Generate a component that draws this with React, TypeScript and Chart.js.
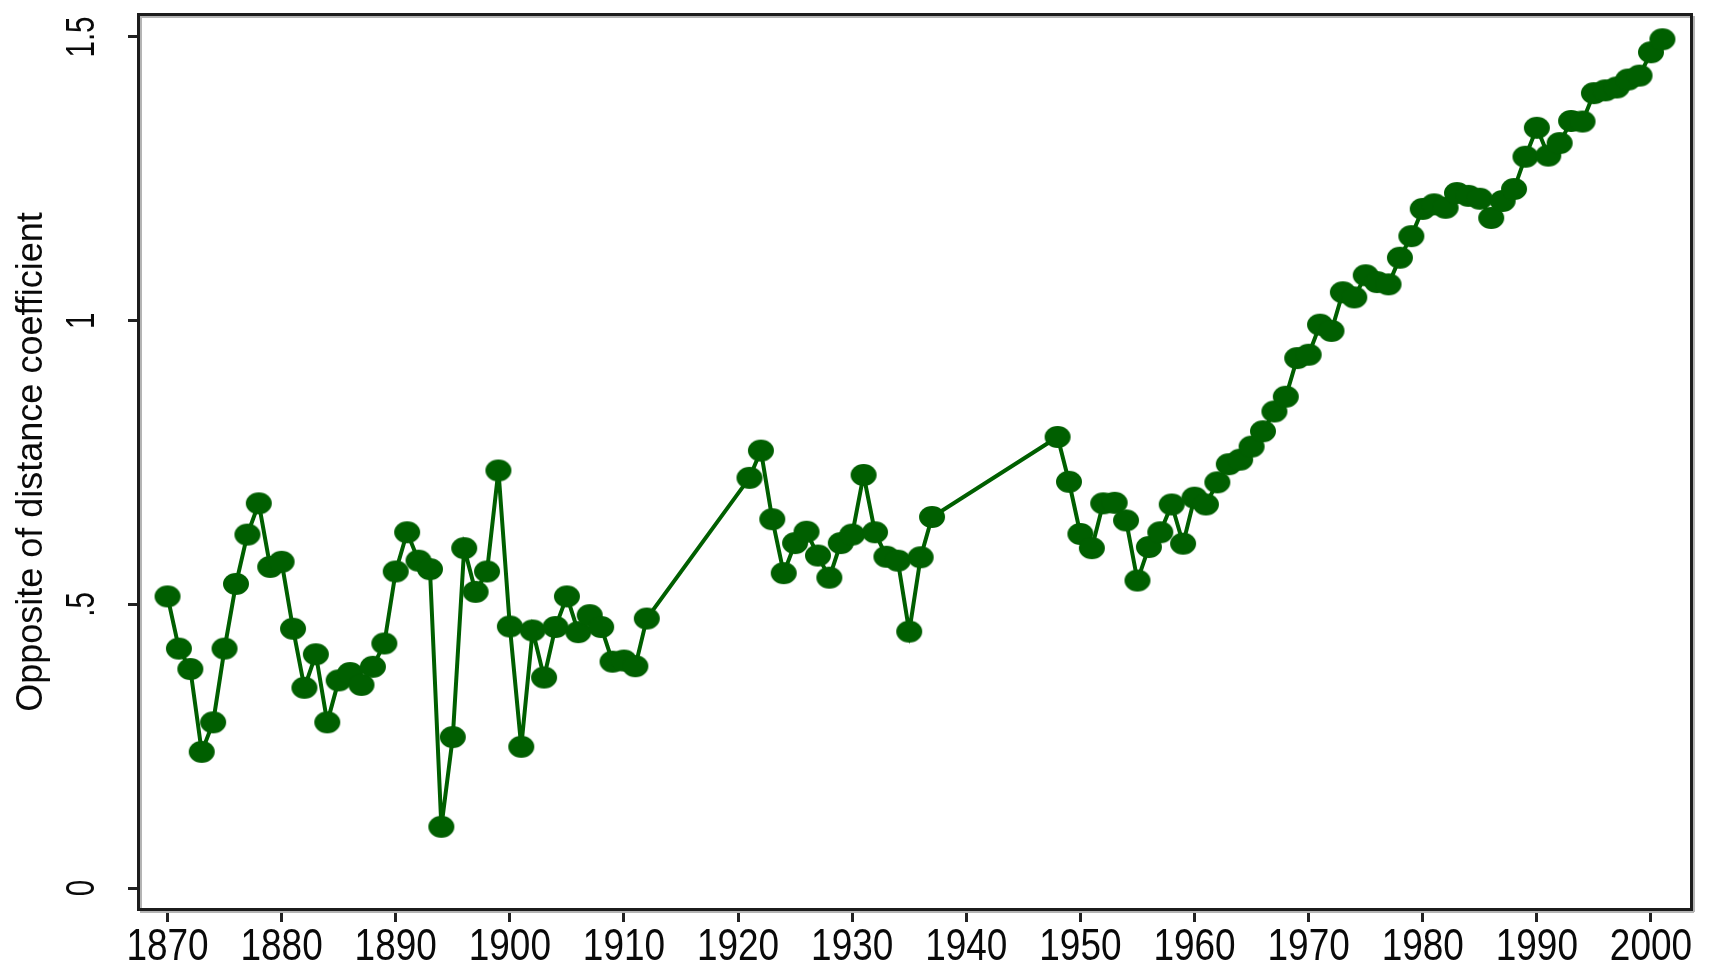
import React, { useEffect, useRef } from "react";
import { Chart, registerables } from "chart.js";

Chart.register(...registerables);

// ---------------- data ----------------
const years: number[] = [
  1870, 1871, 1872, 1873, 1874, 1875, 1876, 1877, 1878, 1879,
  1880, 1881, 1882, 1883, 1884, 1885, 1886, 1887, 1888, 1889,
  1890, 1891, 1892, 1893, 1894, 1895, 1896, 1897, 1898, 1899,
  1900, 1901, 1902, 1903, 1904, 1905, 1906, 1907, 1908, 1909,
  1910, 1911, 1912,
  1921, 1922, 1923, 1924, 1925, 1926, 1927, 1928, 1929,
  1930, 1931, 1932, 1933, 1934, 1935, 1936, 1937,
  1948, 1949,
  1950, 1951, 1952, 1953, 1954, 1955, 1956, 1957, 1958, 1959,
  1960, 1961, 1962, 1963, 1964, 1965, 1966, 1967, 1968, 1969,
  1970, 1971, 1972, 1973, 1974, 1975, 1976, 1977, 1978, 1979,
  1980, 1981, 1982, 1983, 1984, 1985, 1986, 1987, 1988, 1989,
  1990, 1991, 1992, 1993, 1994, 1995, 1996, 1997, 1998, 1999,
  2000, 2001,
];

const values: number[] = [
  0.514, 0.422, 0.386, 0.240, 0.292, 0.422, 0.536, 0.623, 0.678, 0.566,
  0.575, 0.457, 0.353, 0.412, 0.292, 0.366, 0.379, 0.358, 0.390, 0.431,
  0.558, 0.627, 0.577, 0.562, 0.108, 0.266, 0.599, 0.522, 0.558, 0.736,
  0.461, 0.249, 0.454, 0.371, 0.460, 0.514, 0.451, 0.481, 0.460, 0.399,
  0.401, 0.391, 0.475,
  0.723, 0.771, 0.650, 0.555, 0.608, 0.628, 0.586, 0.547, 0.608,
  0.623, 0.728, 0.627, 0.584, 0.577, 0.452, 0.583, 0.654,
  0.795, 0.716,
  0.624, 0.599, 0.678, 0.679, 0.648, 0.542, 0.601, 0.627, 0.676, 0.607,
  0.688, 0.676, 0.715, 0.747, 0.755, 0.778, 0.805, 0.840, 0.866, 0.934,
  0.940, 0.993, 0.982, 1.050, 1.041, 1.080, 1.068, 1.064, 1.111, 1.149,
  1.197, 1.205, 1.199, 1.225, 1.220, 1.215, 1.181, 1.211, 1.232, 1.289,
  1.340, 1.291, 1.313, 1.352, 1.351, 1.401, 1.406, 1.411, 1.425, 1.432,
  1.473, 1.496,
];

const xTickValues: number[] = [1870, 1880, 1890, 1900, 1910, 1920, 1930, 1940, 1950, 1960, 1970, 1980, 1990, 2000];
const xTickLabels: string[] = ["1870", "1880", "1890", "1900", "1910", "1920", "1930", "1940", "1950", "1960", "1970", "1980", "1990", "2000"];
const yTickValues: number[] = [0, 0.5, 1, 1.5];
const yTickLabels: string[] = ["0", ".5", "1", "1.5"];
const yAxisTitle = "Opposite of distance coefficient";

// ---------------- styles ----------------
const GREEN = "#005f00";
const INK = "#0a0a0a";
const FONT = '"Liberation Sans", Arial, Helvetica, sans-serif';

function makeMarker(): HTMLCanvasElement {
  const c = document.createElement("canvas");
  c.width = 28;
  c.height = 24;
  const ctx = c.getContext("2d");
  if (ctx) {
    ctx.fillStyle = GREEN;
    ctx.beginPath();
    ctx.ellipse(14, 12, 13, 11, 0, 0, Math.PI * 2);
    ctx.fill();
  }
  return c;
}

const stataPlugin = {
  id: "stataDecor",
  afterDraw(chart: any) {
    const { ctx, chartArea: a, scales } = chart;
    ctx.save();
    // light shading next to frame
    ctx.strokeStyle = "#b4b4b4";
    ctx.lineWidth = 2;
    ctx.beginPath();
    ctx.moveTo(a.left + 1, a.top);
    ctx.lineTo(a.left + 1, a.bottom);
    ctx.moveTo(a.left, a.top + 1);
    ctx.lineTo(a.right, a.top + 1);
    ctx.moveTo(a.right + 4, a.top);
    ctx.lineTo(a.right + 4, a.bottom + 4);
    ctx.moveTo(a.left, a.bottom + 4);
    ctx.lineTo(a.right + 4, a.bottom + 4);
    ctx.stroke();
    // frame
    ctx.strokeStyle = "#1c1c1c";
    ctx.lineWidth = 3;
    ctx.strokeRect(a.left - 1.5, a.top - 1.5, a.right - a.left + 3, a.bottom - a.top + 3);

    // x tick labels (condensed)
    ctx.fillStyle = INK;
    ctx.font = "44px " + FONT;
    ctx.textAlign = "center";
    ctx.textBaseline = "alphabetic";
    xTickValues.forEach((v, i) => {
      const px = scales.x.getPixelForValue(v);
      ctx.save();
      ctx.translate(px, 960);
      ctx.scale(0.84, 1);
      ctx.fillText(xTickLabels[i], 0, 0);
      ctx.restore();
    });

    // y tick labels (rotated, condensed)
    ctx.font = "40px " + FONT;
    yTickValues.forEach((v, i) => {
      const py = scales.y.getPixelForValue(v);
      ctx.save();
      ctx.translate(94, py);
      ctx.rotate(-Math.PI / 2);
      ctx.scale(0.74, 1);
      ctx.fillText(yTickLabels[i], 0, 0);
      ctx.restore();
    });
    ctx.restore();
  },
};

export default function App() {
  const canvasRef = useRef<HTMLCanvasElement | null>(null);

  useEffect(() => {
    if (!canvasRef.current) return;
    const marker = makeMarker();
    const chart = new Chart(canvasRef.current, {
      type: "line",
      data: {
        datasets: [
          {
            data: years.map((yr, i) => ({ x: yr, y: values[i] })),
            borderColor: GREEN,
            backgroundColor: GREEN,
            borderWidth: 4,
            pointStyle: marker as any,
            pointRadius: 12,
            tension: 0,
            fill: false,
          },
        ],
      },
      options: {
        animation: false,
        responsive: true,
        maintainAspectRatio: false,
        events: [],
        layout: { padding: { left: 0, top: 15, right: 27, bottom: 0 } },
        plugins: {
          legend: { display: false },
          tooltip: { enabled: false },
        },
        scales: {
          x: {
            type: "linear",
            min: 1867.59,
            max: 2003.42,
            afterBuildTicks: (scale: any) => {
              scale.ticks = xTickValues.map((v) => ({ value: v }));
            },
            afterFit: (scale: any) => {
              scale.height = 58;
            },
            ticks: { display: false },
            border: { display: false },
            grid: {
              display: true,
              drawOnChartArea: false,
              drawTicks: true,
              tickLength: 14,
              tickWidth: 3,
              tickColor: "#222222",
              color: "#222222",
            },
          },
          y: {
            type: "linear",
            min: -0.0352,
            max: 1.537,
            afterBuildTicks: (scale: any) => {
              scale.ticks = yTickValues.map((v) => ({ value: v }));
            },
            afterFit: (scale: any) => {
              scale.width = 140;
            },
            ticks: { display: false },
            border: { display: false },
            grid: {
              display: true,
              drawOnChartArea: false,
              drawTicks: true,
              tickLength: 12,
              tickWidth: 3,
              tickColor: "#222222",
              color: "#222222",
            },
            title: {
              display: true,
              text: yAxisTitle,
              color: INK,
              font: { family: FONT, size: 36 },
              padding: { top: 10, bottom: 0 },
            },
          },
        },
      },
      plugins: [stataPlugin],
    });
    return () => chart.destroy();
  }, []);

  return (
    <div style={{ position: "fixed", left: 0, top: 0, width: 1717, height: 966, background: "#ffffff" }}>
      <canvas ref={canvasRef} style={{ display: "block" }} />
    </div>
  );
}
